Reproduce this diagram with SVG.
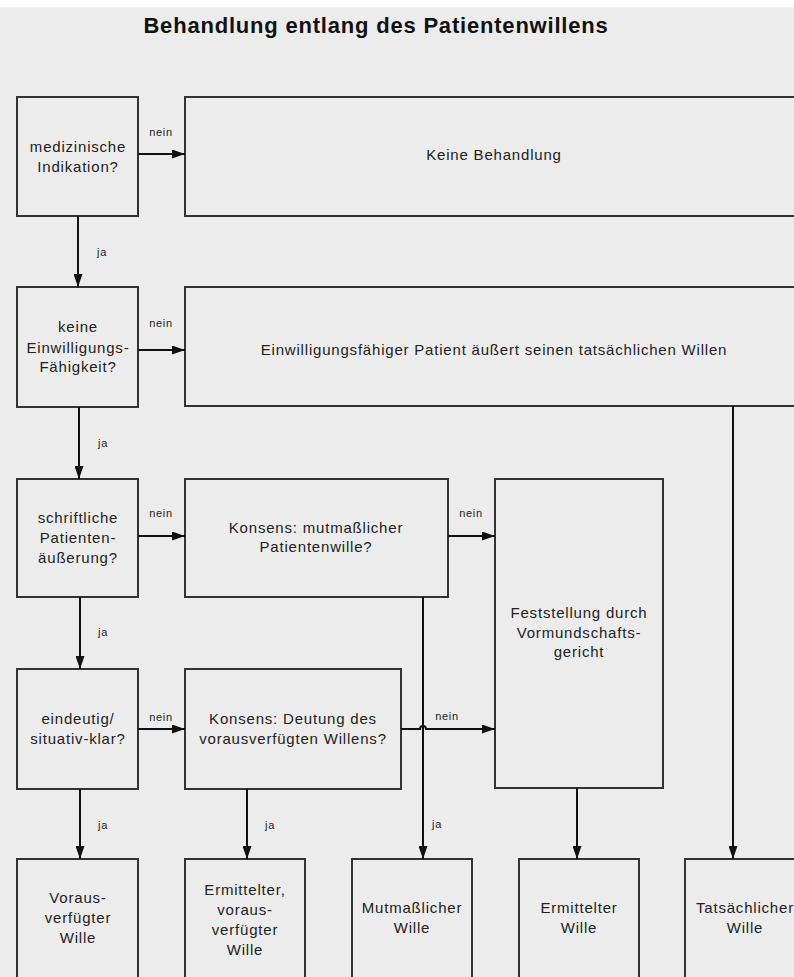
<svg xmlns="http://www.w3.org/2000/svg" width="794" height="977" viewBox="0 0 794 977">
<defs>
<marker id="ah" markerWidth="13" markerHeight="9" refX="13" refY="4.5" orient="auto" markerUnits="userSpaceOnUse">
<path d="M0,0 L13,4.5 L0,9 Z" fill="#111"/>
</marker>
<style>
.box{fill:#ececec;stroke:#333;stroke-width:2}
.t{font-family:"Liberation Sans",Arial,sans-serif;font-size:15px;letter-spacing:0.8px;fill:#222;text-anchor:middle}
.l{font-family:"Liberation Sans",Arial,sans-serif;font-size:11px;letter-spacing:0.7px;fill:#222;text-anchor:middle}
.c{fill:none;stroke:#111;stroke-width:2}
.title{font-family:"Liberation Sans",Arial,sans-serif;font-size:22px;letter-spacing:0.8px;font-weight:bold;fill:#111;text-anchor:middle}
</style>
</defs>
<rect x="0" y="0" width="794" height="977" fill="#ffffff"/>
<rect x="0" y="7" width="794" height="970" fill="#ececec"/>
<text class="title" x="376" y="33">Behandlung entlang des Patientenwillens</text>

<g id="n1"><rect class="box" x="17" y="97" width="121" height="119"/>
<text class="t" x="78" y="152">medizinische</text><text class="t" x="78" y="172">Indikation?</text></g>
<g id="n2"><rect class="box" x="185" y="97" width="630" height="119"/>
<text class="t" x="494" y="160">Keine Behandlung</text></g>
<g id="n3"><rect class="box" x="17" y="287" width="121" height="120"/>
<text class="t" x="78" y="332">keine</text><text class="t" x="78" y="353">Einwilligungs-</text><text class="t" x="78" y="372">Fähigkeit?</text></g>
<g id="n4"><rect class="box" x="185" y="287" width="620" height="119"/>
<text class="t" x="494" y="355">Einwilligungsfähiger Patient äußert seinen tatsächlichen Willen</text></g>
<g id="n5"><rect class="box" x="17" y="479" width="121" height="118"/>
<text class="t" x="78" y="523">schriftliche</text><text class="t" x="78" y="543">Patienten-</text><text class="t" x="78" y="563">äußerung?</text></g>
<g id="n6"><rect class="box" x="185" y="479" width="263" height="118"/>
<text class="t" x="316" y="533">Konsens: mutmaßlicher</text><text class="t" x="316" y="552">Patientenwille?</text></g>
<g id="n7"><rect class="box" x="495" y="479" width="168" height="309"/>
<text class="t" x="579" y="618">Feststellung durch</text><text class="t" x="579" y="638">Vormundschafts-</text><text class="t" x="579" y="657">gericht</text></g>
<g id="n8"><rect class="box" x="17" y="669" width="121" height="120"/>
<text class="t" x="78" y="724">eindeutig/</text><text class="t" x="78" y="744">situativ-klar?</text></g>
<g id="n9"><rect class="box" x="185" y="669" width="216" height="120"/>
<text class="t" x="293" y="724">Konsens: Deutung des</text><text class="t" x="293" y="744">vorausverfügten Willens?</text></g>
<g id="n10"><rect class="box" x="17" y="859" width="121" height="130"/>
<text class="t" x="78" y="903">Voraus-</text><text class="t" x="78" y="923">verfügter</text><text class="t" x="78" y="943">Wille</text></g>
<g id="n11"><rect class="box" x="185" y="859" width="120" height="130"/>
<text class="t" x="245" y="895">Ermittelter,</text><text class="t" x="245" y="915">voraus-</text><text class="t" x="245" y="935">verfügter</text><text class="t" x="245" y="955">Wille</text></g>
<g id="n12"><rect class="box" x="352" y="859" width="120" height="130"/>
<text class="t" x="412" y="913">Mutmaßlicher</text><text class="t" x="412" y="933">Wille</text></g>
<g id="n13"><rect class="box" x="519" y="859" width="120" height="130"/>
<text class="t" x="579" y="913">Ermittelter</text><text class="t" x="579" y="933">Wille</text></g>
<g id="n14"><rect class="box" x="685" y="859" width="120" height="130"/>
<text class="t" x="745" y="913">Tatsächlicher</text><text class="t" x="745" y="933">Wille</text></g>

<g id="connectors">
<path class="c" d="M138,154 L185,154" marker-end="url(#ah)"/>
<text class="l" x="161" y="136">nein</text>
<path class="c" d="M78,216 L78,287" marker-end="url(#ah)"/>
<text class="l" x="102" y="256">ja</text>
<path class="c" d="M138,350 L185,350" marker-end="url(#ah)"/>
<text class="l" x="161" y="327">nein</text>
<path class="c" d="M79,407 L79,479" marker-end="url(#ah)"/>
<text class="l" x="103" y="447">ja</text>
<path class="c" d="M138,536 L185,536" marker-end="url(#ah)"/>
<text class="l" x="161" y="517">nein</text>
<path class="c" d="M448,536 L495,536" marker-end="url(#ah)"/>
<text class="l" x="471" y="517">nein</text>
<path class="c" d="M80,597 L80,669" marker-end="url(#ah)"/>
<text class="l" x="103" y="636">ja</text>
<path class="c" d="M138,729 L185,729" marker-end="url(#ah)"/>
<text class="l" x="161" y="721">nein</text>
<path class="c" d="M401,729 L420,729 A3,3 0 0 1 426,729 L495,729" marker-end="url(#ah)"/>
<text class="l" x="447" y="720">nein</text>
<path class="c" d="M423,597 L423,859" marker-end="url(#ah)"/>
<text class="l" x="437" y="828">ja</text>
<path class="c" d="M80,789 L80,859" marker-end="url(#ah)"/>
<text class="l" x="103" y="829">ja</text>
<path class="c" d="M247,789 L247,859" marker-end="url(#ah)"/>
<text class="l" x="270" y="829">ja</text>
<path class="c" d="M577,788 L577,859" marker-end="url(#ah)"/>
<path class="c" d="M733,406 L733,859" marker-end="url(#ah)"/>
</g>
</svg>
